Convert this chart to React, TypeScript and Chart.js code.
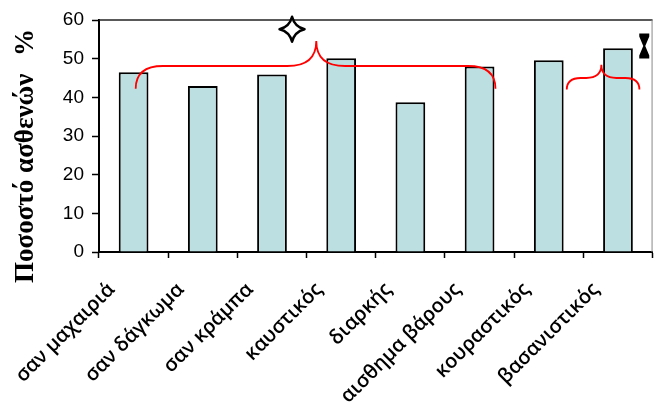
import React, { useEffect, useRef } from 'react';
import { Chart, registerables } from 'chart.js';

Chart.register(...registerables);

const categories = [
  'σαν μαχαιριά',
  'σαν δάγκωμα',
  'σαν κράμπα',
  'καυστικός',
  'διαρκής',
  'αισθημα βάρους',
  'κουραστικός',
  'βασανιστικός',
];
const percentages = [46.5, 42.9, 45.9, 50.1, 38.7, 48.0, 49.6, 52.7];
const yMin = 0;
const yMax = 60;
const yStep = 10;
const yTitle = 'Ποσοστό ασθενών';
const yUnit = '%';

// decorative marks, in category-index / value units
const braceStart = [0.03, 6.26];
const braceEnd = [5.23, 7.31];
const braceTip = [2.64, 6.76];
const braceLevel = [48.1, 45.0];
const braceFoot = [42.2, 42.0];
const braceTipTop = [54.6, 48.4];
const starAt = [2.29, 57.6];
const hourglassAt = [7.38, 53.3];

const decorPlugin = {
  id: 'decor',
  afterDatasetsDraw(chart: any) {
    const { ctx, chartArea, scales } = chart;
    const xs = scales.x;
    const ys = scales.y;
    ctx.save();
    // frame top & right
    ctx.strokeStyle = '#222';
    ctx.lineWidth = 1.5;
    ctx.beginPath();
    ctx.moveTo(chartArea.left, chartArea.top);
    ctx.lineTo(chartArea.right, chartArea.top);
    ctx.stroke();
    ctx.strokeStyle = '#888';
    ctx.lineWidth = 1;
    ctx.beginPath();
    ctx.moveTo(chartArea.right - 0.5, chartArea.top);
    ctx.lineTo(chartArea.right - 0.5, chartArea.bottom);
    ctx.stroke();

    // braces
    ctx.strokeStyle = '#ff0000';
    ctx.lineWidth = 1.8;
    for (let i = 0; i < braceStart.length; i++) {
      const x0 = xs.getPixelForValue(braceStart[i]);
      const x1 = xs.getPixelForValue(braceEnd[i]);
      const xt = xs.getPixelForValue(braceTip[i]);
      const yL = ys.getPixelForValue(braceLevel[i]);
      const yF = ys.getPixelForValue(braceFoot[i]);
      const yT = ys.getPixelForValue(braceTipTop[i]);
      const rl = Math.min(1.2 * (yF - yL), (xt - x0) / 2);
      const rr = Math.min(1.2 * (yF - yL), (x1 - xt) / 2);
      const rt = Math.min(1.15 * (yL - yT), (xt - x0) / 2, (x1 - xt) / 2);
      ctx.beginPath();
      ctx.moveTo(x0, yF);
      ctx.quadraticCurveTo(x0, yL, x0 + rl, yL);
      ctx.lineTo(xt - rt, yL);
      ctx.quadraticCurveTo(xt, yL, xt, yT);
      ctx.quadraticCurveTo(xt, yL, xt + rt, yL);
      ctx.lineTo(x1 - rr, yL);
      ctx.quadraticCurveTo(x1, yL, x1, yF);
      ctx.stroke();
    }

    // star
    const sx = xs.getPixelForValue(starAt[0]);
    const sy = ys.getPixelForValue(starAt[1]);
    const R = 12.5;
    const k = 2.5;
    ctx.beginPath();
    ctx.moveTo(sx, sy - R);
    ctx.quadraticCurveTo(sx + k, sy - k, sx + R, sy);
    ctx.quadraticCurveTo(sx + k, sy + k, sx, sy + R);
    ctx.quadraticCurveTo(sx - k, sy + k, sx - R, sy);
    ctx.quadraticCurveTo(sx - k, sy - k, sx, sy - R);
    ctx.closePath();
    ctx.fillStyle = '#fff';
    ctx.fill();
    ctx.strokeStyle = '#000';
    ctx.lineWidth = 2.5;
    ctx.lineJoin = 'round';
    ctx.stroke();

    // hourglass
    const hx = xs.getPixelForValue(hourglassAt[0]);
    const hy = ys.getPixelForValue(hourglassAt[1]);
    const hh = 12.5;
    const hw = 5;
    ctx.beginPath();
    ctx.moveTo(hx - hw, hy - hh);
    ctx.lineTo(hx + hw, hy - hh);
    ctx.lineTo(hx + hw, hy - hh + 3);
    ctx.lineTo(hx + 1, hy);
    ctx.lineTo(hx + hw, hy + hh - 3);
    ctx.lineTo(hx + hw, hy + hh);
    ctx.lineTo(hx - hw, hy + hh);
    ctx.lineTo(hx - hw, hy + hh - 3);
    ctx.lineTo(hx - 1, hy);
    ctx.lineTo(hx - hw, hy - hh + 3);
    ctx.closePath();
    ctx.fillStyle = '#000';
    ctx.fill();

    // y axis title
    ctx.fillStyle = '#000';
    ctx.font = 'bold 27px "Liberation Serif", "Times New Roman", serif';
    ctx.textAlign = 'left';
    ctx.textBaseline = 'alphabetic';
    ctx.translate(chartArea.left - 66, chartArea.bottom + 31);
    ctx.rotate(-Math.PI / 2);
    ctx.fillText(yTitle, 0, 0);
    ctx.fillText(yUnit, 227, 0);
    ctx.restore();
  },
};

export default function App() {
  const ref = useRef<HTMLCanvasElement>(null);
  useEffect(() => {
    if (!ref.current) return;
    const chart = new Chart(ref.current, {
      type: 'bar',
      data: {
        labels: categories,
        datasets: [
          {
            data: percentages,
            backgroundColor: '#BCE0E2',
            borderColor: '#000',
            borderWidth: 2,
            categoryPercentage: 1,
            barPercentage: 0.43,
          },
        ],
      },
      options: {
        responsive: false,
        animation: false,
        layout: { padding: { left: 0, top: 20, right: 1, bottom: 0 } },
        plugins: { legend: { display: false }, tooltip: { enabled: false }, title: { display: false } },
        scales: {
          x: {
            afterFit: (s: any) => {
              s.height = 155;
            },
            grid: { drawOnChartArea: false, drawTicks: true, tickLength: 6, tickColor: '#000', tickWidth: 1.5, offset: true },
            border: { display: true, color: '#000', width: 2 },
            ticks: {
              autoSkip: false,
              maxRotation: 45,
              minRotation: 45,
              color: '#000',
              padding: 20,
              labelOffset: -22,
              font: { family: '"Open Sans", sans-serif', size: 20, weight: '600' },
            },
          },
          y: {
            min: yMin,
            max: yMax,
            afterFit: (s: any) => {
              s.width = 99;
            },
            grid: { drawOnChartArea: false, drawTicks: true, tickLength: 7, tickColor: '#000', tickWidth: 1.5 },
            border: { display: true, color: '#000', width: 2 },
            ticks: {
              stepSize: yStep,
              color: '#000',
              padding: 8,
              font: { family: '"Liberation Sans", Arial, sans-serif', size: 19 },
            },
          },
        },
      },
      plugins: [decorPlugin],
    });
    return () => chart.destroy();
  }, []);
  return (
    <div style={{ position: 'absolute', left: 0, top: 0, width: 655, height: 407 }}>
      <canvas ref={ref} width={655} height={407} style={{ display: 'block' }} />
    </div>
  );
}
